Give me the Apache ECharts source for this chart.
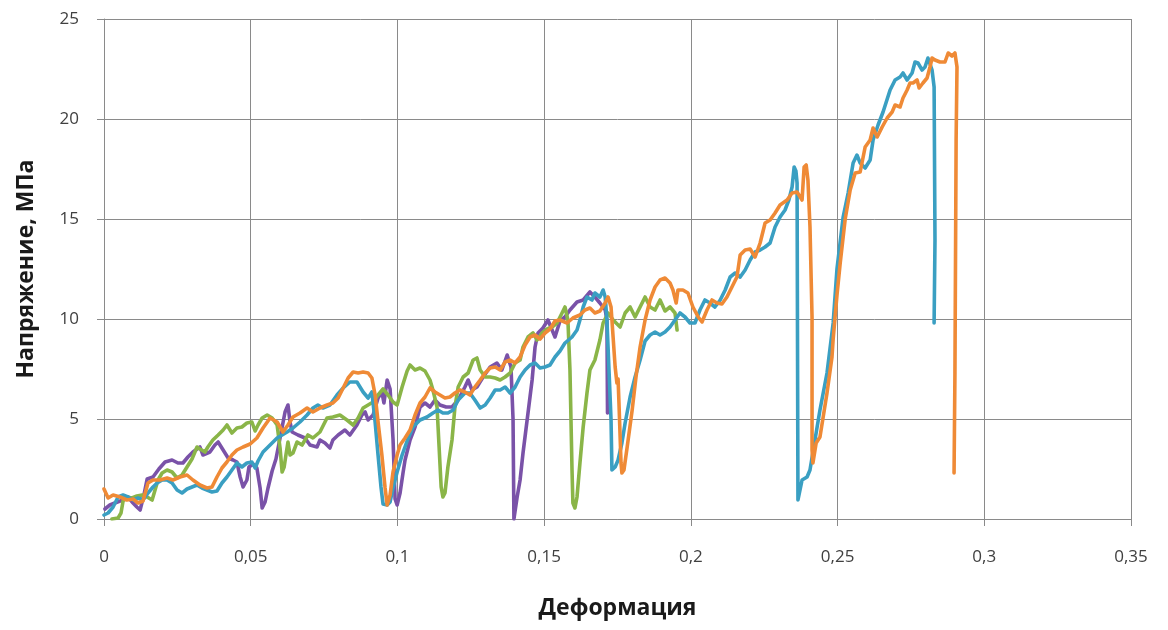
<!DOCTYPE html>
<html>
<head>
<meta charset="utf-8">
<script src="https://cdn.jsdelivr.net/npm/echarts@6/dist/echarts.min.js"></script>
<style>
html,body{margin:0;padding:0;background:#fff;}
#chart{width:1168px;height:630px;}
</style>
</head>
<body>
<div id="chart"></div>
<script>
// Deformation (x) vs stress MPa (y)
const purple = [
[0.0003,0.5],[0.0020,0.7],[0.0037,0.8],[0.0055,0.9],[0.0082,1.1],[0.0099,0.8],[0.0112,0.6],[0.0123,0.45],
[0.0136,1.2],[0.0147,2.0],[0.0167,2.1],[0.0187,2.5],[0.0208,2.85],[0.0232,2.95],[0.0252,2.8],[0.0269,2.8],
[0.0286,3.1],[0.0303,3.35],[0.0327,3.6],[0.0337,3.2],[0.0361,3.35],[0.0378,3.7],[0.0389,3.85],[0.0406,3.45],
[0.0423,3.05],[0.0440,2.95],[0.0453,2.85],[0.0464,2.1],[0.0474,1.6],[0.0487,1.95],[0.0494,2.6],[0.0508,2.75],
[0.0521,2.55],[0.0532,1.55],[0.0539,0.55],[0.0549,0.85],[0.0559,1.55],[0.0573,2.4],[0.0586,3.0],[0.0600,4.05],
[0.0617,5.35],[0.0627,5.7],[0.0634,4.85],[0.0641,4.35],[0.0661,4.2],[0.0685,4.05],[0.0702,3.7],[0.0726,3.6],
[0.0736,3.95],[0.0753,3.8],[0.0770,3.55],[0.0780,3.95],[0.0798,4.2],[0.0821,4.45],[0.0838,4.2],[0.0862,4.7],
[0.0879,5.2],[0.0890,5.35],[0.0900,4.95],[0.0917,5.2],[0.0934,6.05],[0.0947,6.35],[0.0954,5.8],[0.0965,6.95],
[0.0975,6.5],[0.0985,4.0],[0.0992,1.0],[0.0999,0.7],[0.1009,1.3],[0.1019,2.3],[0.1026,2.95],[0.1043,3.95],
[0.1060,4.6],[0.1077,5.6],[0.1094,5.8],[0.1111,5.6],[0.1128,5.95],[0.1145,5.7],[0.1166,5.6],[0.1186,5.6],
[0.1207,5.95],[0.1230,6.6],[0.1241,6.95],[0.1254,6.45],[0.1271,6.6],[0.1292,7.1],[0.1316,7.6],[0.1339,7.8],
[0.1356,7.45],[0.1374,8.2],[0.1387,7.6],[0.1394,5.0],[0.1397,0.0],[0.1408,1.1],[0.1418,1.95],[0.1428,3.3],
[0.1445,5.3],[0.1459,6.95],[0.1469,8.6],[0.1479,9.3],[0.1496,9.55],[0.1513,9.95],[0.1537,9.1],[0.1554,9.9],
[0.1571,10.1],[0.1588,10.45],[0.1612,10.85],[0.1633,10.95],[0.1656,11.35],[0.1673,11.1],[0.1690,10.8],
[0.1708,10.45],[0.1714,9.95],[0.1716,5.3]
];
const green = [
[0.0027,0.0],[0.0048,0.05],[0.0058,0.3],[0.0065,0.9],[0.0078,1.1],[0.0095,1.05],[0.0112,1.15],[0.0130,1.2],
[0.0147,1.1],[0.0164,0.95],[0.0174,1.45],[0.0184,1.95],[0.0198,2.3],[0.0215,2.45],[0.0232,2.35],[0.0249,2.05],
[0.0266,2.2],[0.0283,2.6],[0.0300,3.0],[0.0317,3.6],[0.0327,3.5],[0.0344,3.35],[0.0354,3.6],[0.0371,3.95],
[0.0389,4.2],[0.0406,4.45],[0.0419,4.7],[0.0436,4.3],[0.0453,4.55],[0.0470,4.6],[0.0487,4.8],[0.0504,4.85],
[0.0515,4.4],[0.0525,4.7],[0.0539,5.05],[0.0556,5.2],[0.0573,5.05],[0.0590,4.7],[0.0600,3.55],[0.0607,2.35],
[0.0614,2.6],[0.0620,3.2],[0.0627,3.85],[0.0634,3.2],[0.0644,3.3],[0.0658,3.85],[0.0675,3.7],[0.0695,4.2],
[0.0712,4.05],[0.0736,4.35],[0.0760,5.05],[0.0780,5.1],[0.0804,5.2],[0.0828,4.95],[0.0849,4.7],[0.0866,5.05],
[0.0883,5.55],[0.0900,5.7],[0.0917,5.85],[0.0934,6.2],[0.0951,6.5],[0.0968,6.2],[0.0985,5.85],[0.0999,5.7],
[0.1016,6.6],[0.1033,7.4],[0.1043,7.7],[0.1060,7.45],[0.1077,7.55],[0.1094,7.4],[0.1111,6.95],[0.1121,6.45],
[0.1135,5.6],[0.1142,3.6],[0.1149,1.6],[0.1155,1.1],[0.1162,1.3],[0.1172,2.6],[0.1186,3.95],[0.1196,5.6],
[0.1207,6.6],[0.1224,7.1],[0.1241,7.3],[0.1258,7.95],[0.1271,8.05],[0.1282,7.45],[0.1299,7.1],[0.1316,7.1],
[0.1333,7.05],[0.1350,6.95],[0.1367,7.1],[0.1384,7.3],[0.1401,7.8],[0.1418,7.95],[0.1428,8.6],[0.1445,9.1],
[0.1462,9.3],[0.1476,8.95],[0.1493,9.3],[0.1510,9.5],[0.1527,9.6],[0.1544,9.8],[0.1561,10.3],[0.1571,10.6],
[0.1581,9.95],[0.1588,7.45],[0.1595,2.45],[0.1598,0.8],[0.1605,0.55],[0.1612,1.1],[0.1622,2.8],[0.1633,4.6],
[0.1646,6.3],[0.1656,7.45],[0.1673,7.95],[0.1690,8.95],[0.1701,9.8],[0.1718,10.3],[0.1735,9.95],[0.1759,9.6],
[0.1776,10.3],[0.1793,10.6],[0.1810,10.1],[0.1827,10.6],[0.1844,11.1],[0.1861,10.6],[0.1878,10.45],
[0.1895,10.95],[0.1912,10.4],[0.1929,10.6],[0.1946,10.3],[0.1953,9.45]
];
const teal = [
[0.0000,0.2],[0.0014,0.3],[0.0031,0.6],[0.0048,1.1],[0.0065,1.2],[0.0082,1.1],[0.0099,0.95],[0.0116,1.05],
[0.0133,0.95],[0.0150,1.3],[0.0167,1.6],[0.0181,1.8],[0.0198,1.95],[0.0215,1.95],[0.0232,1.8],[0.0249,1.45],
[0.0266,1.3],[0.0283,1.5],[0.0300,1.6],[0.0317,1.7],[0.0334,1.55],[0.0351,1.45],[0.0368,1.35],[0.0385,1.4],
[0.0402,1.8],[0.0419,2.1],[0.0436,2.45],[0.0453,2.8],[0.0470,2.6],[0.0487,2.8],[0.0504,2.85],[0.0515,2.55],
[0.0525,2.9],[0.0542,3.35],[0.0566,3.7],[0.0590,4.05],[0.0607,4.2],[0.0624,4.35],[0.0644,4.55],[0.0668,4.85],
[0.0692,5.2],[0.0712,5.55],[0.0729,5.7],[0.0746,5.55],[0.0770,5.7],[0.0794,6.2],[0.0815,6.55],[0.0838,6.85],
[0.0862,6.85],[0.0883,6.35],[0.0900,6.05],[0.0913,6.35],[0.0924,4.85],[0.0934,3.2],[0.0944,1.6],[0.0951,0.75],
[0.0965,0.7],[0.0975,0.85],[0.0985,1.55],[0.0999,2.35],[0.1016,3.2],[0.1033,3.9],[0.1053,4.6],[0.1077,4.95],
[0.1101,5.1],[0.1121,5.3],[0.1138,5.45],[0.1155,5.3],[0.1172,5.3],[0.1190,5.45],[0.1207,5.95],[0.1230,6.3],
[0.1247,6.3],[0.1264,5.95],[0.1282,5.55],[0.1299,5.7],[0.1316,6.05],[0.1333,6.45],[0.1350,6.45],[0.1367,6.6],
[0.1384,6.3],[0.1401,6.6],[0.1418,7.1],[0.1435,7.45],[0.1452,7.7],[0.1469,7.8],[0.1486,7.55],[0.1503,7.6],
[0.1520,7.7],[0.1537,8.1],[0.1554,8.4],[0.1571,8.8],[0.1595,9.1],[0.1612,9.45],[0.1622,9.95],[0.1633,10.6],
[0.1646,11.1],[0.1663,10.95],[0.1673,11.3],[0.1690,11.1],[0.1701,11.45],[0.1708,11.1],[0.1714,9.95],
[0.1721,7.45],[0.1728,4.95],[0.1731,2.45],[0.1742,2.6],[0.1752,2.95],[0.1765,3.8],[0.1776,4.8],[0.1793,6.1],
[0.1810,7.1],[0.1827,7.95],[0.1844,8.9],[0.1861,9.2],[0.1878,9.35],[0.1895,9.2],[0.1912,9.35],[0.1929,9.6],
[0.1946,9.95],[0.1963,10.3],[0.1980,10.1],[0.1997,9.8],[0.2014,9.8],[0.2031,10.45],[0.2048,10.95],
[0.2065,10.8],[0.2082,10.6],[0.2100,10.95],[0.2117,11.45],[0.2134,12.1],[0.2151,12.3],[0.2168,12.1],
[0.2185,12.45],[0.2202,12.95],[0.2219,13.35],[0.2236,13.45],[0.2253,13.6],[0.2270,13.8],[0.2287,14.6],
[0.2304,15.1],[0.2321,15.45],[0.2334,15.95],[0.2345,16.6],[0.2352,17.6],[0.2358,17.4],[0.2362,16.8],
[0.2365,0.95],[0.2379,1.95],[0.2396,2.1],[0.2406,2.45],[0.2423,3.95],[0.2440,5.45],[0.2464,7.3],[0.2485,9.8],
[0.2498,12.5],[0.2519,15.1],[0.2536,16.3],[0.2553,17.8],[0.2566,18.2],[0.2577,17.8],[0.2594,17.55],
[0.2611,17.95],[0.2621,18.95],[0.2638,19.7],[0.2655,20.35],[0.2679,21.45],[0.2696,21.95],[0.2713,22.1],
[0.2723,22.3],[0.2737,21.95],[0.2754,22.3],[0.2764,22.85],[0.2774,22.8],[0.2788,22.45],[0.2798,22.6],
[0.2808,23.05],[0.2822,22.45],[0.2829,21.6],[0.2832,13.95],[0.2829,9.8]
];
const orange = [
[0.0000,1.5],[0.0003,1.45],[0.0014,1.05],[0.0031,1.2],[0.0055,1.1],[0.0078,0.95],[0.0099,1.0],[0.0116,0.8],
[0.0133,0.9],[0.0150,1.8],[0.0167,1.95],[0.0191,1.95],[0.0215,2.05],[0.0235,1.95],[0.0259,2.1],[0.0283,2.2],
[0.0303,1.95],[0.0327,1.7],[0.0351,1.55],[0.0368,1.6],[0.0385,2.1],[0.0402,2.55],[0.0419,2.85],[0.0436,3.2],
[0.0453,3.45],[0.0474,3.6],[0.0498,3.75],[0.0521,4.05],[0.0542,4.55],[0.0566,5.05],[0.0590,4.85],[0.0610,4.35],
[0.0627,4.7],[0.0644,5.1],[0.0668,5.3],[0.0692,5.55],[0.0712,5.35],[0.0736,5.55],[0.0760,5.7],[0.0780,5.8],
[0.0798,6.05],[0.0815,6.55],[0.0832,7.05],[0.0849,7.35],[0.0866,7.3],[0.0883,7.35],[0.0900,7.3],[0.0913,7.05],
[0.0924,6.2],[0.0934,4.85],[0.0947,3.2],[0.0958,1.55],[0.0965,0.7],[0.0975,1.2],[0.0985,2.35],[0.0999,3.2],
[0.1009,3.7],[0.1026,4.05],[0.1043,4.45],[0.1060,5.2],[0.1077,5.8],[0.1094,6.1],[0.1111,6.55],[0.1128,6.35],
[0.1145,6.2],[0.1162,6.05],[0.1179,6.1],[0.1196,6.3],[0.1213,6.45],[0.1230,6.35],[0.1247,6.2],[0.1264,6.6],
[0.1282,6.95],[0.1299,7.3],[0.1316,7.55],[0.1333,7.6],[0.1350,7.45],[0.1367,7.85],[0.1384,7.95],[0.1401,7.8],
[0.1418,8.1],[0.1435,8.7],[0.1452,9.1],[0.1469,9.2],[0.1486,9.0],[0.1503,9.3],[0.1520,9.5],[0.1537,9.9],
[0.1554,9.95],[0.1578,9.8],[0.1598,10.05],[0.1622,10.2],[0.1639,10.45],[0.1656,10.55],[0.1673,10.3],
[0.1690,10.4],[0.1708,10.8],[0.1718,11.1],[0.1728,10.6],[0.1735,9.1],[0.1742,7.6],[0.1748,6.8],[0.1752,7.0],
[0.1755,5.8],[0.1762,2.8],[0.1765,2.3],[0.1772,2.45],[0.1783,3.6],[0.1800,5.45],[0.1813,7.1],[0.1827,8.6],
[0.1844,9.95],[0.1861,10.95],[0.1878,11.6],[0.1895,11.95],[0.1912,12.05],[0.1929,11.8],[0.1939,11.45],
[0.1950,10.8],[0.1956,11.45],[0.1973,11.45],[0.1990,11.3],[0.2007,10.6],[0.2025,10.1],[0.2038,9.85],
[0.2055,10.45],[0.2072,10.95],[0.2089,10.8],[0.2106,10.75],[0.2123,11.1],[0.2140,11.6],[0.2157,12.1],
[0.2168,13.2],[0.2185,13.45],[0.2202,13.5],[0.2219,13.1],[0.2236,13.8],[0.2253,14.8],[0.2270,14.95],
[0.2287,15.3],[0.2304,15.7],[0.2328,15.95],[0.2345,16.3],[0.2362,16.35],[0.2379,15.95],[0.2386,17.6],
[0.2393,17.7],[0.2399,16.95],[0.2406,14.6],[0.2413,10.1],[0.2413,3.45],[0.2416,2.8],[0.2427,3.8],[0.2440,4.1],
[0.2464,6.3],[0.2481,8.1],[0.2485,9.0],[0.2498,11.2],[0.2509,12.8],[0.2526,15.0],[0.2543,16.45],[0.2560,17.3],
[0.2577,17.35],[0.2594,18.6],[0.2611,18.95],[0.2621,19.55],[0.2635,19.1],[0.2652,19.6],[0.2669,20.05],
[0.2686,20.35],[0.2696,20.7],[0.2713,20.6],[0.2723,21.05],[0.2737,21.45],[0.2747,21.8],[0.2757,21.8],
[0.2771,21.95],[0.2778,21.55],[0.2791,21.8],[0.2805,22.05],[0.2815,22.6],[0.2822,23.05],[0.2832,22.95],
[0.2849,22.85],[0.2866,22.85],[0.2877,23.3],[0.2890,23.15],[0.2900,23.3],[0.2907,22.6],[0.2904,18.95],
[0.2900,7.3],[0.2897,2.3]
];
const xTicks = ['0','0,05','0,1','0,15','0,2','0,25','0,3','0,35'];
const xName = 'Деформация';
const yName = 'Напряжение, МПа';

const chart = echarts.init(document.getElementById('chart'), null, {renderer:'canvas'});
const gridColor = '#8a8a8a';
const fam = '"Open Sans", "Noto Sans", sans-serif';
const labelStyle = {color:'#404040', fontSize:17, fontFamily:fam};
function mk(name, data, color){
  return {name, type:'line', data, showSymbol:false, symbol:'none', smooth:false,
    lineStyle:{color, width:3.6, join:'round', cap:'round'}, itemStyle:{color}, animation:false};
}
chart.setOption({
  animation:false,
  backgroundColor:'#ffffff',
  grid:{left:104, right:37, top:19, bottom:111, containLabel:false},
  xAxis:{type:'value', min:0, max:0.35, interval:0.05,
    name:xName, nameLocation:'middle', nameGap:78,
    nameTextStyle:{color:'#1a1a1a', fontSize:23, fontWeight:'bold', fontFamily:fam},
    axisLine:{show:true, lineStyle:{color:gridColor, width:1}},
    axisTick:{show:true, inside:false, length:7, lineStyle:{color:gridColor}},
    axisLabel:{...labelStyle, margin:30, formatter:(v)=>{const i=Math.round(v/0.05); return xTicks[i]!==undefined?xTicks[i]:'';}},
    splitLine:{show:true, lineStyle:{color:gridColor, width:1}}
  },
  yAxis:{type:'value', min:0, max:25, interval:5,
    name:yName, nameLocation:'middle', nameGap:66, nameRotate:90,
    nameTextStyle:{color:'#1a1a1a', fontSize:23, fontWeight:'bold', fontFamily:fam},
    axisLine:{show:true, lineStyle:{color:gridColor, width:1}},
    axisTick:{show:true, inside:false, length:7, lineStyle:{color:gridColor}},
    axisLabel:{...labelStyle, margin:25},
    splitLine:{show:true, lineStyle:{color:gridColor, width:1}}
  },
  series:[
    mk('purple', purple, '#7a52a8'),
    mk('green', green, '#8ab548'),
    mk('teal', teal, '#3a9fc2'),
    mk('orange', orange, '#ef8a36')
  ]
});
</script>
</body>
</html>
